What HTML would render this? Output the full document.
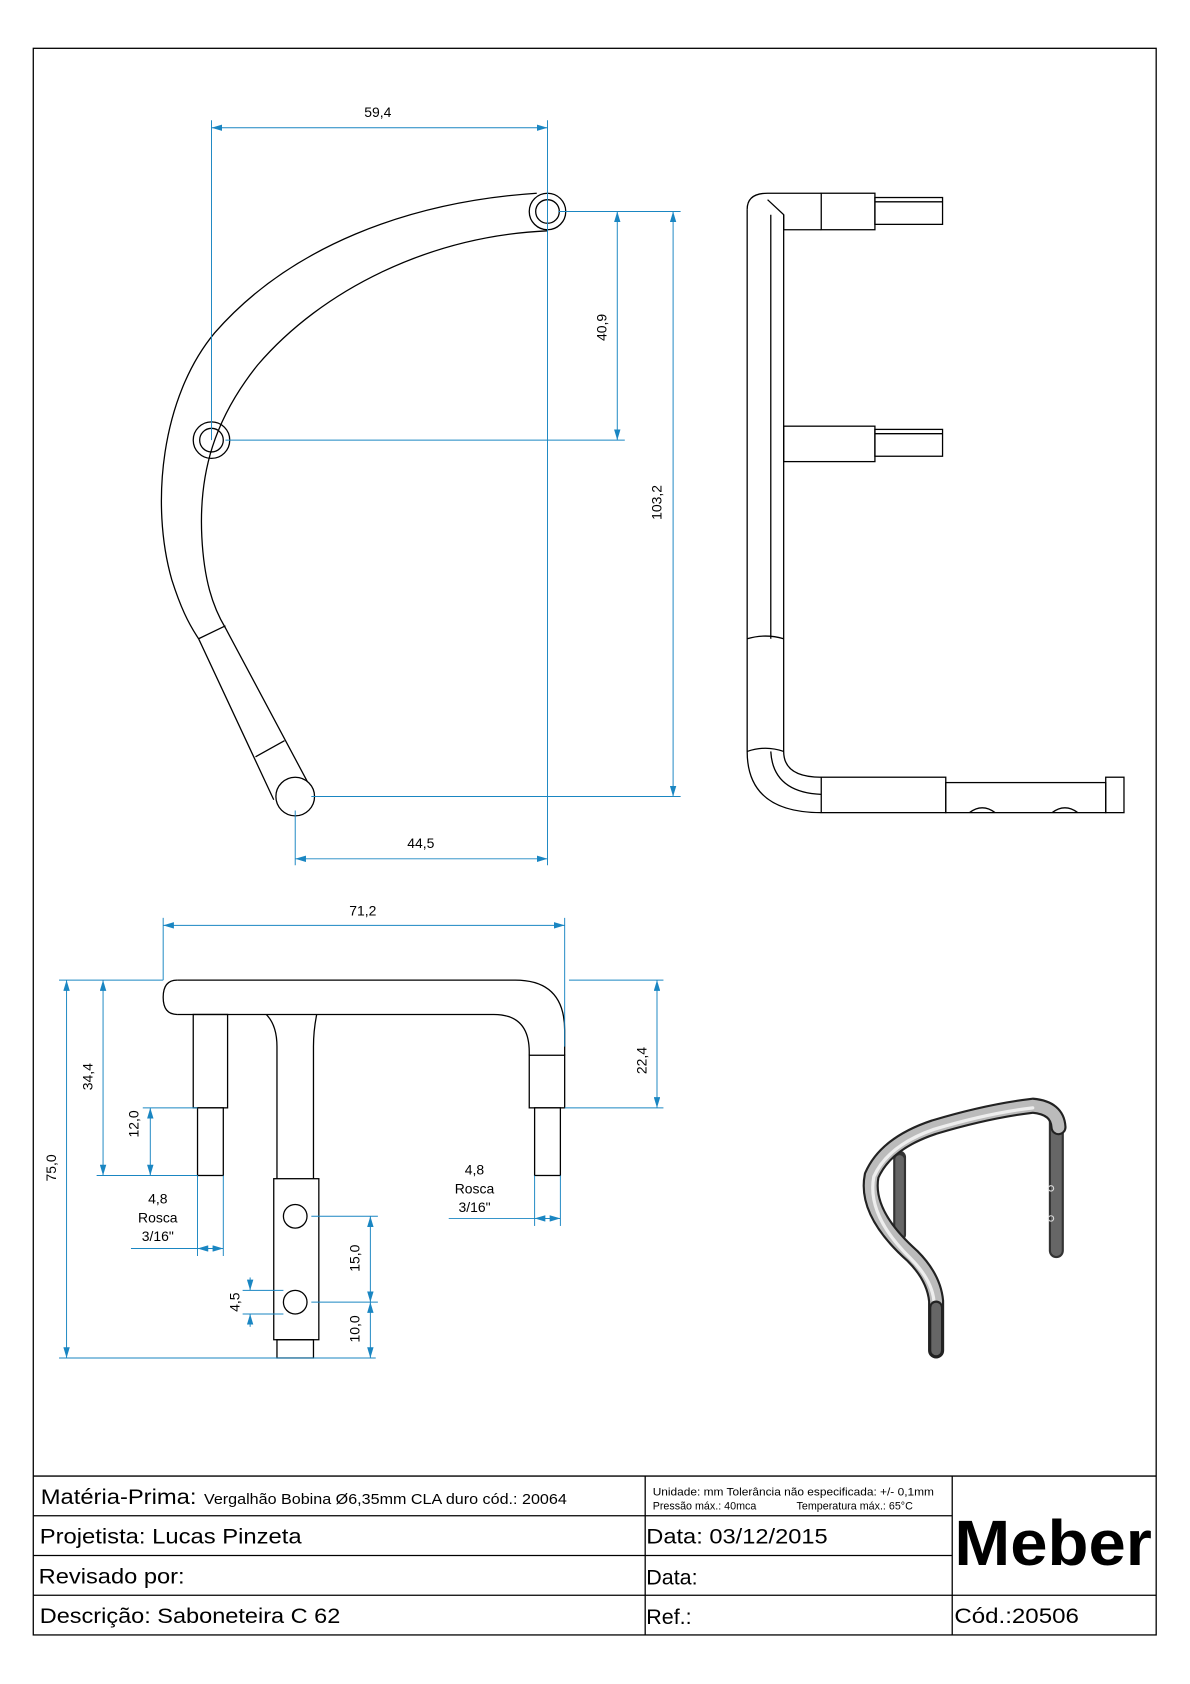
<!DOCTYPE html>
<html><head><meta charset="utf-8"><style>
html,body{margin:0;padding:0;background:#fff;}
svg{display:block;}
text{font-family:"Liberation Sans",sans-serif;}
</style></head><body>
<svg width="1190" height="1684" viewBox="0 0 1108.5 1568.7" preserveAspectRatio="none" xmlns="http://www.w3.org/2000/svg">
<defs>
<marker id="a" markerWidth="10" markerHeight="6" refX="10" refY="3" orient="auto-start-reverse" markerUnits="userSpaceOnUse"><path d="M0,0 L10,3 L0,6 Z" fill="#1a86c2"/></marker>
</defs>
<rect x="31" y="45" width="1046" height="1478" fill="none" stroke="#000" stroke-width="1.2"/>
<g stroke="#000" stroke-width="1.2" fill="none">
<line x1="31" y1="1375" x2="1077" y2="1375"/>
<line x1="31" y1="1412" x2="887" y2="1412"/>
<line x1="31" y1="1449" x2="887" y2="1449"/>
<line x1="31" y1="1486" x2="1077" y2="1486"/>
<line x1="601" y1="1375" x2="601" y2="1523"/>
<line x1="887" y1="1375" x2="887" y2="1523"/>
</g>
<text x="38" y="1401" font-size="20" textLength="145" lengthAdjust="spacingAndGlyphs">Matéria-Prima:</text>
<text x="190" y="1401" font-size="14" textLength="338" lengthAdjust="spacingAndGlyphs">Vergalhão  Bobina Ø6,35mm CLA duro cód.: 20064</text>
<text x="608" y="1393" font-size="10" textLength="262" lengthAdjust="spacingAndGlyphs">Unidade: mm Tolerância não especificada: +/- 0,1mm</text>
<text x="608" y="1406" font-size="10">Pressão máx.: 40mca</text>
<text x="742" y="1406" font-size="10">Temperatura máx.: 65°C</text>
<text x="37" y="1438" font-size="20" textLength="244" lengthAdjust="spacingAndGlyphs">Projetista: Lucas Pinzeta</text>
<text x="36" y="1475" font-size="20" textLength="136" lengthAdjust="spacingAndGlyphs">Revisado por:</text>
<text x="37" y="1512" font-size="20" textLength="280" lengthAdjust="spacingAndGlyphs">Descrição: Saboneteira C 62</text>
<text x="602" y="1438" font-size="20" textLength="169" lengthAdjust="spacingAndGlyphs">Data: 03/12/2015</text>
<text x="602" y="1476" font-size="20">Data:</text>
<text x="602" y="1513" font-size="20">Ref.:</text>
<text x="889" y="1512" font-size="20" textLength="116" lengthAdjust="spacingAndGlyphs">Cód.:20506</text>
<text x="889" y="1458" font-size="60" font-weight="bold" textLength="184" lengthAdjust="spacingAndGlyphs">Meber</text>

<g fill="none" stroke="#000" stroke-width="1.2">
<path d="M500,180 C380,188 270,230 200,310 C150,370 140,470 160,540 C168,565 175,580 185,595 L255,745"/>
<path d="M510,215 C400,220 300,270 240,340 C200,390 185,440 188,500 C190,540 198,565 210,585 L290,735"/>
<line x1="185" y1="595" x2="210" y2="583"/>
<line x1="238" y1="705" x2="265" y2="690"/>
<circle cx="510" cy="197" r="17"/><circle cx="510" cy="197" r="11"/>
<circle cx="197" cy="410" r="17"/><circle cx="197" cy="410" r="11"/>
<circle cx="275" cy="742" r="18" fill="#fff"/>
</g>
<g fill="none" stroke="#000" stroke-width="1.2">
<path d="M696,195 Q696,180 715,180 L765,180"/>
<path d="M730,214 L730,200 L715,186"/>
<line x1="696" y1="195" x2="696" y2="700"/>
<line x1="730" y1="200" x2="730" y2="700"/>
<line x1="718" y1="200" x2="718" y2="595"/>
<path d="M696,700 Q696,757 765,757"/>
<path d="M730,700 Q730,724 765,724"/>
<path d="M718,700 Q720,738 765,740"/>
<path d="M696,595 Q713,590 730,595"/><path d="M696,700 Q713,694 730,700"/>
<line x1="730" y1="214" x2="765" y2="214"/>
<rect x="765" y="180" width="50" height="34"/>
<rect x="815" y="184" width="63" height="25"/><line x1="815" y1="188" x2="878" y2="188"/>
<rect x="730" y="397" width="85" height="33"/>
<rect x="815" y="400" width="63" height="25"/><line x1="815" y1="404" x2="878" y2="404"/>
<rect x="765" y="724" width="116" height="33"/>
<rect x="881" y="729" width="149" height="28"/>
<rect x="1030" y="724" width="17" height="33"/>
<path d="M903,757 Q915,748 927,757 M980,757 Q992,748 1004,757"/>
</g>
<g fill="none" stroke="#000" stroke-width="1.2">
<path d="M165,913 L480,913 Q526,913 526,960 L526,983"/>
<path d="M165,945 L460,945 Q493,945 493,980 L493,983"/>
<path d="M165,913 Q152,913 152,929 Q152,945 165,945"/>
<rect x="493" y="983" width="33" height="49"/>
<rect x="498" y="1032" width="24" height="63"/>
<rect x="180" y="945" width="32" height="87"/>
<rect x="184" y="1032" width="24" height="63"/>
<path d="M248,945 Q258,955 258,975 L258,1098 M295,945 Q292,960 292,975 L292,1098"/>
<rect x="255" y="1098" width="42" height="150"/>
<rect x="258" y="1248" width="34" height="17"/>
<circle cx="275" cy="1133" r="11"/><circle cx="275" cy="1213" r="11"/>
</g>
<g stroke="#1a86c2" stroke-width="0.9" fill="none">
<line x1="197" y1="112" x2="197" y2="410"/><line x1="510" y1="112" x2="510" y2="806"/>
<line x1="197" y1="119" x2="510" y2="119" marker-start="url(#a)" marker-end="url(#a)"/>
<line x1="210" y1="410" x2="582" y2="410"/>
<line x1="575" y1="197" x2="575" y2="410" marker-start="url(#a)" marker-end="url(#a)"/>
<line x1="520" y1="197" x2="634" y2="197"/><line x1="290" y1="742" x2="634" y2="742"/>
<line x1="627" y1="197" x2="627" y2="742" marker-start="url(#a)" marker-end="url(#a)"/>
<line x1="275" y1="755" x2="275" y2="806"/>
<line x1="275" y1="800" x2="510" y2="800" marker-start="url(#a)" marker-end="url(#a)"/>
<line x1="152" y1="855" x2="152" y2="913"/><line x1="526" y1="855" x2="526" y2="975"/>
<line x1="152" y1="862" x2="526" y2="862" marker-start="url(#a)" marker-end="url(#a)"/>
<line x1="530" y1="913" x2="618" y2="913"/><line x1="526" y1="1032" x2="618" y2="1032"/>
<line x1="612" y1="913" x2="612" y2="1032" marker-start="url(#a)" marker-end="url(#a)"/>
<line x1="55" y1="913" x2="152" y2="913"/><line x1="90" y1="1095" x2="184" y2="1095"/>
<line x1="55" y1="1265" x2="350" y2="1265"/>
<line x1="96" y1="913" x2="96" y2="1095" marker-start="url(#a)" marker-end="url(#a)"/>
<line x1="62" y1="913" x2="62" y2="1265" marker-start="url(#a)" marker-end="url(#a)"/>
<line x1="133" y1="1032" x2="184" y2="1032"/>
<line x1="140" y1="1032" x2="140" y2="1095" marker-start="url(#a)" marker-end="url(#a)"/>
<line x1="184" y1="1095" x2="184" y2="1170"/><line x1="208" y1="1095" x2="208" y2="1170"/>
<line x1="122" y1="1163" x2="184" y2="1163"/>
<line x1="208" y1="1163" x2="184" y2="1163" marker-end="url(#a)"/>
<line x1="184" y1="1163" x2="208" y2="1163" marker-end="url(#a)"/>
<line x1="498" y1="1095" x2="498" y2="1142"/><line x1="522" y1="1095" x2="522" y2="1142"/>
<line x1="418" y1="1135" x2="498" y2="1135"/>
<line x1="522" y1="1135" x2="498" y2="1135" marker-end="url(#a)"/>
<line x1="498" y1="1135" x2="522" y2="1135" marker-end="url(#a)"/>
<line x1="290" y1="1133" x2="352" y2="1133"/><line x1="290" y1="1213" x2="352" y2="1213"/>
<line x1="345" y1="1133" x2="345" y2="1213" marker-start="url(#a)" marker-end="url(#a)"/>
<line x1="345" y1="1213" x2="345" y2="1265" marker-start="url(#a)" marker-end="url(#a)"/>
<line x1="226" y1="1202" x2="264" y2="1202"/><line x1="226" y1="1224" x2="264" y2="1224"/>
<line x1="233" y1="1190" x2="233" y2="1202" marker-end="url(#a)"/>
<line x1="233" y1="1236" x2="233" y2="1224" marker-end="url(#a)"/>
</g>
<g font-size="13" fill="#000">
<text x="352" y="109" text-anchor="middle">59,4</text>
<text x="392" y="790" text-anchor="middle">44,5</text>
<text x="338" y="853" text-anchor="middle">71,2</text>
<text transform="translate(565,305) rotate(-90)" text-anchor="middle">40,9</text>
<text transform="translate(616,468) rotate(-90)" text-anchor="middle">103,2</text>
<text transform="translate(602,988) rotate(-90)" text-anchor="middle">22,4</text>
<text transform="translate(86,1003) rotate(-90)" text-anchor="middle">34,4</text>
<text transform="translate(52,1088) rotate(-90)" text-anchor="middle">75,0</text>
<text transform="translate(129,1047) rotate(-90)" text-anchor="middle">12,0</text>
<text transform="translate(335,1172) rotate(-90)" text-anchor="middle">15,0</text>
<text transform="translate(335,1238) rotate(-90)" text-anchor="middle">10,0</text>
<text transform="translate(223,1213) rotate(-90)" text-anchor="middle">4,5</text>
<text x="147" y="1121" text-anchor="middle">4,8</text>
<text x="147" y="1139" text-anchor="middle">Rosca</text>
<text x="147" y="1156" text-anchor="middle">3/16"</text>
<text x="442" y="1094" text-anchor="middle">4,8</text>
<text x="442" y="1112" text-anchor="middle">Rosca</text>
<text x="442" y="1129" text-anchor="middle">3/16"</text>
</g>
<g fill="none" stroke-linecap="round">
<path d="M838,1078 L838,1150" stroke="#333" stroke-width="12"/>
<path d="M838,1080 L838,1150" stroke="#666" stroke-width="8"/>
<path d="M984,1045 L984,1165" stroke="#333" stroke-width="14"/>
<path d="M984,1045 L984,1165" stroke="#666" stroke-width="10"/>
<path d="M872,1258 L872,1212 Q870,1190 850,1170 Q805,1130 812,1095 Q825,1065 870,1050 Q920,1035 962,1030 Q985,1032 986,1050" stroke="#222" stroke-width="15"/>
<path d="M872,1258 L872,1212 Q870,1190 850,1170 Q805,1130 812,1095 Q825,1065 870,1050 Q920,1035 962,1030 Q985,1032 986,1050" stroke="#bbb" stroke-width="11"/>
<path d="M870,1212 Q868,1192 848,1172 Q807,1132 814,1096 Q827,1067 870,1052 Q920,1037 962,1032" stroke="#eee" stroke-width="3"/>
<path d="M872,1258 L872,1218" stroke="#222" stroke-width="13"/>
<path d="M872,1258 L872,1218" stroke="#666" stroke-width="9"/>
<circle cx="979" cy="1107" r="2.5" stroke="#ddd" stroke-width="1"/>
<circle cx="979" cy="1135" r="2.5" stroke="#ddd" stroke-width="1"/>
</g>
</svg>
</body></html>
